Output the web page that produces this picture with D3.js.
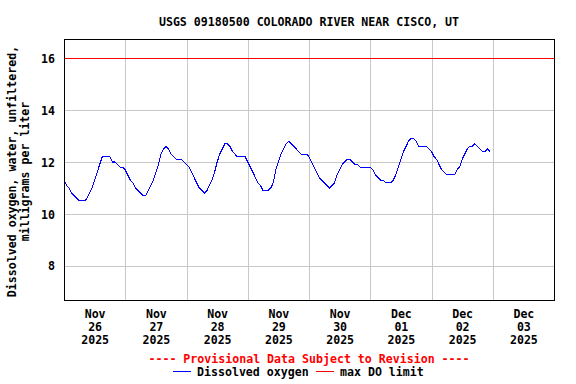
<!DOCTYPE html>
<html>
<head>
<meta charset="utf-8">
<script src="https://cdn.jsdelivr.net/npm/d3@7"></script>
<style>
body { margin: 0; background: #fff; }
svg text { font-family: "DejaVu Sans Mono", "Liberation Mono", monospace; font-weight: bold; font-size: 11.6px; }
</style>
</head>
<body>
<div id="chart"></div>
<script>

// Data (hourly readings)

var site_title = "USGS 09180500 COLORADO RIVER NEAR CISCO, UT";
var y_label = ["Dissolved oxygen, water, unfiltered,", "milligrams per liter"];
var provisional_note = "---- Provisional Data Subject to Revision ----";
var series_names = ["Dissolved oxygen", "max DO limit"];

var start_time = "2025-11-26T00:00";
var end_time = "2025-12-04T00:00";

var do_values = [
    // Nov 26
    11.3, 11.1, 11.0, 10.8, 10.7, 10.6, 10.5, 10.5, 10.5, 10.6, 10.8, 11.0,
    11.3, 11.6, 11.9, 12.2, 12.2, 12.2, 12.2, 12.0, 12.0, 11.9, 11.8, 11.8,
    // Nov 27
    11.7, 11.5, 11.3, 11.2, 11.0, 10.9, 10.8, 10.7, 10.7, 10.9, 11.1, 11.3,
    11.6, 11.9, 12.3, 12.5, 12.6, 12.5, 12.3, 12.2, 12.1, 12.1, 12.1, 12.0,
    // Nov 28
    11.9, 11.8, 11.6, 11.4, 11.2, 11.0, 10.9, 10.8, 10.9, 11.1, 11.3, 11.6,
    12.0, 12.3, 12.5, 12.7, 12.7, 12.6, 12.4, 12.3, 12.2, 12.2, 12.2, 12.2,
    // Nov 29
    12.0, 11.8, 11.6, 11.4, 11.2, 11.1, 10.9, 10.9, 10.9, 11.0, 11.2, 11.7,
    12.0, 12.3, 12.5, 12.7, 12.8, 12.7, 12.6, 12.5, 12.4, 12.3, 12.3, 12.3,
    // Nov 30
    12.2, 12.0, 11.8, 11.6, 11.4, 11.3, 11.2, 11.1, 11.0, 11.1, 11.2, 11.5,
    11.7, 11.9, 12.0, 12.1, 12.1, 12.0, 11.9, 11.9, 11.8, 11.8, 11.8, 11.8,
    // Dec 01
    11.8, 11.7, 11.5, 11.4, 11.3, 11.3, 11.2, 11.2, 11.2, 11.3, 11.5, 11.8,
    12.1, 12.4, 12.6, 12.8, 12.9, 12.9, 12.8, 12.6, 12.6, 12.6, 12.6, 12.5,
    // Dec 02
    12.4, 12.2, 12.1, 11.9, 11.7, 11.6, 11.5, 11.5, 11.5, 11.5, 11.7, 11.8,
    12.1, 12.3, 12.5, 12.6, 12.6, 12.7, 12.6, 12.5, 12.4, 12.4, 12.5, 12.4
];

var do_limit = 16;
var y_ticks = [8, 10, 12, 14, 16];
var y_domain = [6.68, 16.74];


var usgs = usgs || {'viz': {}};

usgs.viz.do_chart = function(options)
{
    var self = {};

    for (key in options){
        self[key] = options[key];
    }

    self.parent_select = "#" + self.id_name;

    self.init = function(){

        self.svg = d3.select(self.parent_select).append("svg")
            .attr("width", self.width)
            .attr("height", self.height);

        var parse = d3.timeParse("%Y-%m-%dT%H:%M");
        self.t0 = parse(start_time);
        self.t1 = parse(end_time);

        self.x = d3.scaleTime()
            .domain([self.t0, self.t1])
            .range([self.left, self.right]);

        self.y = d3.scaleLinear()
            .domain(y_domain)
            .range([self.bottom, self.top]);
    };

    self.render = function(values)
    {
        var svg = self.svg, x = self.x, y = self.y;
        var pw = self.right - self.left, ph = self.bottom - self.top;

        // title
        svg.append("text")
            .attr("x", (self.left + self.right) / 2)
            .attr("y", 26)
            .attr("text-anchor", "middle")
            .text(site_title);

        // grid
        var days = d3.timeDay.range(self.t0, self.t1);
        svg.append("g")
            .attr("transform", "translate(0," + self.bottom + ")")
            .call(d3.axisBottom(x).tickValues(days.slice(1)).tickSize(-ph).tickFormat(""))
            .call(g => g.select(".domain").remove())
            .selectAll("line").attr("stroke", "#c8c8c8").attr("shape-rendering", "crispEdges");

        svg.append("g")
            .attr("transform", "translate(" + self.left + ",0)")
            .call(d3.axisLeft(y).tickValues(y_ticks).tickSize(-pw).tickPadding(9).tickFormat(d3.format("d")))
            .call(g => g.select(".domain").remove())
            .call(g => g.selectAll("line").attr("stroke", "#c8c8c8").attr("shape-rendering", "crispEdges"))
            .call(g => g.selectAll("text").attr("fill", "#000").attr("dy", "0.36em"));

        // x labels at noon, three lines each
        var noons = days.map(d => d3.timeHour.offset(d, 12));
        var xl = svg.append("g")
            .attr("transform", "translate(0," + self.bottom + ")")
            .call(d3.axisBottom(x).tickValues(noons).tickSize(0).tickFormat(""));
        xl.select(".domain").remove();
        xl.selectAll(".tick").each(function(d){
            var t = d3.select(this).append("text")
                .attr("text-anchor", "middle")
                .attr("fill", "#000");
            [d3.timeFormat("%b")(d), d3.timeFormat("%d")(d), d3.timeFormat("%Y")(d)].forEach(function(s, i){
                t.append("tspan").attr("x", 0).attr("y", 18 + i * 13).text(s);
            });
        });

        // y axis title
        var yt = svg.append("text")
            .attr("text-anchor", "middle")
            .attr("transform", "translate(16," + ((self.top + self.bottom) / 2 + 2) + ") rotate(-90)");
        y_label.forEach(function(s, i){
            yt.append("tspan").attr("x", 0).attr("y", i * 13).text(s);
        });

        // limit line
        svg.append("line")
            .attr("x1", self.left).attr("x2", self.right)
            .attr("y1", y(do_limit)).attr("y2", y(do_limit))
            .attr("stroke", "#ff0000")
            .attr("shape-rendering", "crispEdges");

        // DO series
        var line = d3.line()
            .x((d, i) => x(d3.timeHour.offset(self.t0, i)))
            .y(d => y(d));

        svg.append("path")
            .datum(values)
            .attr("d", line)
            .attr("fill", "none")
            .attr("stroke", "#0000ff")
            .attr("stroke-width", 1.1)
            .attr("shape-rendering", "crispEdges");

        // frame
        svg.append("rect")
            .attr("x", self.left + 0.5).attr("y", self.top + 0.5)
            .attr("width", pw).attr("height", ph)
            .attr("fill", "none")
            .attr("stroke", "#000");

        // notes and legend
        svg.append("text")
            .attr("x", (self.left + self.right) / 2)
            .attr("y", 363)
            .attr("text-anchor", "middle")
            .attr("fill", "#ff0000")
            .text(provisional_note);

        var lg = svg.append("g");
        lg.append("line").attr("x1", 173).attr("x2", 191).attr("y1", 371.5).attr("y2", 371.5)
            .attr("stroke", "#0000ff").attr("stroke-width", 1.2).attr("shape-rendering", "crispEdges");
        lg.append("text").attr("x", 197).attr("y", 376).text(series_names[0]);
        lg.append("line").attr("x1", 316).attr("x2", 334).attr("y1", 371.5).attr("y2", 371.5)
            .attr("stroke", "#ff0000").attr("stroke-width", 1.2).attr("shape-rendering", "crispEdges");
        lg.append("text").attr("x", 340).attr("y", 376).text(series_names[1]);
    };

    self.init();

    return self;
};

var chart = usgs.viz.do_chart({
    id_name: "chart",
    width: 576,
    height: 384,
    left: 64,
    right: 554,
    top: 39,
    bottom: 300
});
chart.render(do_values);

</script>
</body>
</html>
